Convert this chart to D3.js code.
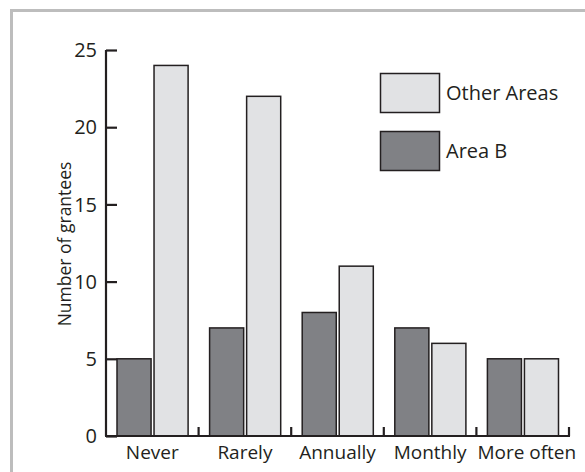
<!DOCTYPE html>
<html>
<head>
<meta charset="utf-8">
<script src="https://cdn.jsdelivr.net/npm/d3@7"></script>
<style>
  html, body { margin: 0; padding: 0; background: #fff; overflow: hidden; }
  svg { display: block; }
  text { font-family: "Open Sans", "Noto Sans", sans-serif; fill: #231f20; }
</style>
</head>
<body>
<svg id="chart" width="585" height="472"></svg>
<script>
const categories = ["Never", "Rarely", "Annually", "Monthly", "More often"];
const areaB = [5, 7, 8, 7, 5];
const otherAreas = [24, 22, 11, 6, 5];
const seriesNames = ["Area B", "Other Areas"];
const legendOrder = ["Other Areas", "Area B"];
const yTicks = [0, 5, 10, 15, 20, 25];
const yTitle = "Number of grantees";

const colors = { "Area B": "#808185", "Other Areas": "#e1e2e4" };
const ink = "#231f20";

const svg = d3.select("#chart");

// frame (only top and left edges fall inside the window)
svg.append("path")
  .attr("d", "M11.5,480V10.5H600")
  .attr("fill", "none").attr("stroke", "#bdbdbd").attr("stroke-width", 3);

const x0 = 106, x1 = 569, yBase = 436, yTop = 50;

const x = d3.scaleBand().domain(categories).range([x0, x1]).paddingInner(0).paddingOuter(0);
const xs = d3.scaleBand().domain(seriesNames).range([11, x.bandwidth() - 10.5]).paddingInner(0.08);
const y = d3.scaleLinear().domain([0, 25]).range([yBase, yTop]);

const data = categories.map((c, i) => ({ cat: c, values: [
  { name: "Area B", v: areaB[i] }, { name: "Other Areas", v: otherAreas[i] }
]}));

// bars
const g = svg.append("g");
g.selectAll("g.cat").data(data).join("g")
  .attr("class", "cat")
  .attr("transform", d => `translate(${x(d.cat)},0)`)
  .selectAll("rect").data(d => d.values).join("rect")
  .attr("x", d => xs(d.name))
  .attr("width", xs.bandwidth())
  .attr("y", d => y(d.v))
  .attr("height", d => y(0) - y(d.v))
  .attr("fill", d => colors[d.name])
  .attr("stroke", ink).attr("stroke-width", 1.5);

// y axis
const yAxis = d3.axisRight(y).tickValues(yTicks).tickSize(11).tickFormat("");
const ya = svg.append("g").attr("transform", `translate(${x0},0)`).call(yAxis);
ya.select(".domain").attr("stroke", ink).attr("stroke-width", 2.2)
  .attr("d", `M0,${yTop}V${yBase}`);
ya.selectAll(".tick line").attr("stroke", ink).attr("stroke-width", 2.2);

svg.append("g").selectAll("text").data(yTicks).join("text")
  .attr("x", x0 - 9).attr("y", d => y(d))
  .attr("dy", "0.36em")
  .attr("text-anchor", "end")
  .attr("font-size", 20)
  .text(d => d);

// x axis
const xTickPos = categories.map(c => x(c)).concat([x1]);
const xa = svg.append("g");
xa.append("line").attr("x1", x0 - 1).attr("x2", x1 + 1)
  .attr("y1", yBase).attr("y2", yBase)
  .attr("stroke", ink).attr("stroke-width", 2.2);
xa.selectAll("line.t").data(xTickPos.slice(1)).join("line")
  .attr("class", "t")
  .attr("x1", d => d).attr("x2", d => d)
  .attr("y1", yBase).attr("y2", yBase - 9)
  .attr("stroke", ink).attr("stroke-width", 2.2);

xa.selectAll("text").data(categories).join("text")
  .attr("x", (d, i) => i === categories.length - 1 ? x(d) + 1 : x(d) + x.bandwidth() / 2)
  .attr("y", 459)
  .attr("text-anchor", (d, i) => i === categories.length - 1 ? "start" : "middle")
  .attr("font-size", 19)
  .text(d => d);

// y title
svg.append("text")
  .attr("transform", `translate(71,${(yTop + yBase) / 2 + 1}) rotate(-90)`)
  .attr("text-anchor", "middle")
  .attr("font-size", 17.5)
  .text(yTitle);

// legend
const lg = svg.append("g").attr("transform", "translate(380,73)");
const li = lg.selectAll("g").data(legendOrder).join("g")
  .attr("transform", (d, i) => `translate(0,${i * 58})`);
li.append("rect").attr("x", 0.5).attr("y", 0.5).attr("width", 59).attr("height", 39)
  .attr("fill", d => colors[d]).attr("stroke", ink).attr("stroke-width", 1.5);
li.append("text").attr("x", 66).attr("y", 27).attr("font-size", 20).text(d => d);
</script>
</body>
</html>
